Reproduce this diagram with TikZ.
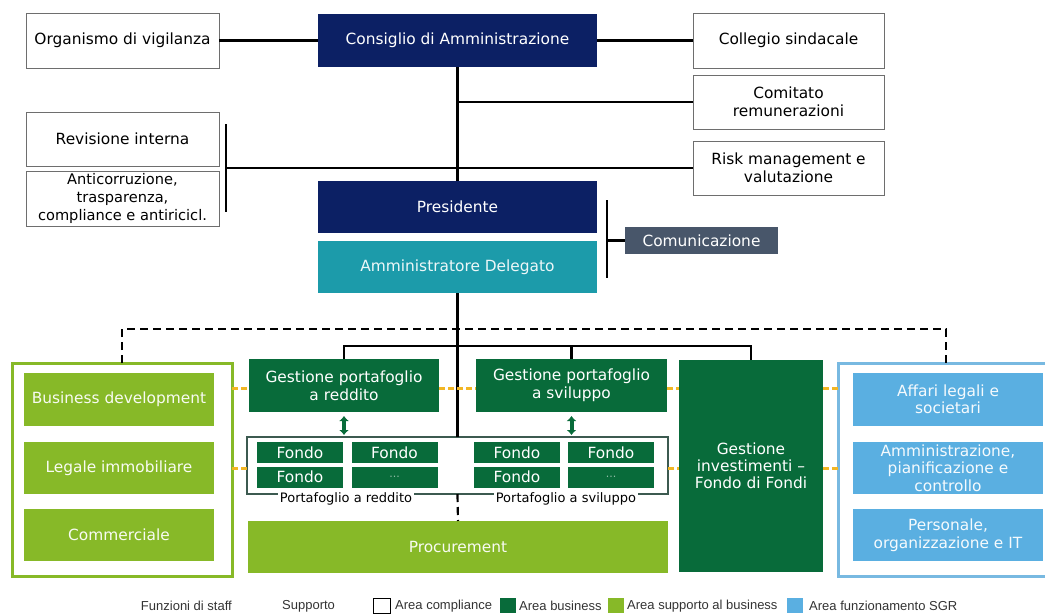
\documentclass[tikz,border=0pt]{standalone}
\usepackage{fontspec}
\setmainfont{DejaVu Sans}
\newfontfamily\legendfont{Liberation Sans}
\usetikzlibrary{arrows.meta}
\definecolor{navy}{RGB}{12,32,100}
\definecolor{teal}{RGB}{28,155,170}
\definecolor{slate}{RGB}{72,86,106}
\definecolor{dgreen}{RGB}{8,107,58}
\definecolor{lgreen}{RGB}{135,185,40}
\definecolor{lblue}{RGB}{90,175,225}
\definecolor{fblue}{RGB}{120,185,225}
\definecolor{ydash}{RGB}{242,182,36}
\definecolor{boxgray}{RGB}{110,110,110}
\definecolor{pfgray}{RGB}{60,90,80}
\begin{document}
\begin{tikzpicture}[x=1pt,y=-1pt,
  box/.style={rectangle, inner sep=0pt, outer sep=0pt, align=center, font=\fontsize{15.4}{18}\selectfont},
  wbox/.style={box, draw=boxgray, line width=1pt, fill=white, text=black},
  navybox/.style={box, fill=navy, text=white},
  tealbox/.style={box, fill=teal, text=white!92!teal},
  slatebox/.style={box, fill=slate, text=white},
  dgbox/.style={box, fill=dgreen, text=white},
  lgbox/.style={box, fill=lgreen, text=white!94!lgreen},
  lbbox/.style={box, fill=lblue, text=white!94!lblue, font=\fontsize{15.4}{17.5}\selectfont},
  fund/.style={box, fill=dgreen, text=white, minimum width=86pt, minimum height=21pt},
  frame/.style={rectangle, inner sep=0pt, outer sep=0pt, line width=3pt},
  conn/.style={line width=2.2pt, draw=black},
  ddash/.style={line width=2.2pt, draw=black, dash pattern=on 8pt off 5pt},
  ylink/.style={line width=3pt, draw=ydash, dash pattern=on 6pt off 3pt},
  dblarrow/.style={line width=4pt, draw=dgreen, {Latex[length=5pt,width=10pt]}-{Latex[length=5pt,width=10pt]}},
  pflabel/.style={fill=white, inner sep=1.5pt, font=\fontsize{13}{15}\selectfont, text=black},
  legtext/.style={inner sep=0pt, font=\legendfont\fontsize{13}{15}\selectfont, text=black!80},
  legsw/.style={rectangle, inner sep=0pt, minimum width=16pt, minimum height=15pt}
]
\useasboundingbox (0,0) rectangle (1045,614);

% top governance
\node[wbox, minimum width=193pt, minimum height=55pt] (org) at (122.5,40.5) {Organismo di vigilanza};
\node[navybox, minimum width=279pt, minimum height=53pt] (cda) at (457.5,40.5) {Consiglio di Amministrazione};
\node[wbox, minimum width=191pt, minimum height=55pt] (coll) at (788.5,40.5) {Collegio sindacale};
\node[wbox, minimum width=191pt, minimum height=54pt] (com) at (788.5,102) {Comitato\\remunerazioni};
\node[wbox, minimum width=191pt, minimum height=54pt] (risk) at (788.5,168) {Risk management e\\valutazione};
\node[wbox, minimum width=193pt, minimum height=54pt] (rev) at (122.5,139) {Revisione interna};
\node[wbox, minimum width=193pt, minimum height=55pt, font=\fontsize{14.6}{18}\selectfont] (anti) at (122.5,198.5) {Anticorruzione,\\trasparenza,\\compliance e antiricicl.};
\node[navybox, minimum width=279pt, minimum height=52pt] (pres) at (457.5,207) {Presidente};
\node[tealbox, minimum width=279pt, minimum height=52pt] (ad) at (457.5,267) {Amministratore Delegato};
\node[slatebox, minimum width=153pt, minimum height=27pt] (comu) at (701.5,240.5) {Comunicazione};

% frames
\node[frame, draw=lgreen, minimum width=220pt, minimum height=213pt] (lf) at (122,469.5) {};
\node[frame, draw=fblue, minimum width=216pt, minimum height=213pt] (rf) at (946,469.5) {};

% left column
\node[lgbox, minimum width=190pt, minimum height=53pt] (bd) at (119,399.5) {Business development};
\node[lgbox, minimum width=190pt, minimum height=52pt] (leg) at (119,468) {Legale immobiliare};
\node[lgbox, minimum width=190pt, minimum height=52pt] (comm) at (119,535) {Commerciale};

% right column
\node[lbbox, minimum width=190pt, minimum height=53pt] (aff) at (948,399.5) {Affari legali e\\societari};
\node[lbbox, minimum width=190pt, minimum height=52pt] (amm) at (948,468) {Amministrazione,\\pianificazione e\\controllo};
\node[lbbox, minimum width=190pt, minimum height=52pt] (pers) at (948,535) {Personale,\\organizzazione e IT};

% business area
\node[dgbox, minimum width=190pt, minimum height=53pt] (gpr) at (344,385.5) {Gestione portafoglio\\a reddito};
\node[dgbox, minimum width=191pt, minimum height=53pt] (gps) at (571.5,385.5) {Gestione portafoglio\\a sviluppo};
\node[dgbox, minimum width=144pt, minimum height=212pt, font=\fontsize{15.4}{17}\selectfont] (gi) at (751,466) {Gestione\\investimenti –\\Fondo di Fondi};
\node[lgbox, minimum width=420pt, minimum height=52pt] (proc) at (458,547) {Procurement};

% portfolio frame
\node[rectangle, draw=pfgray, line width=1.3pt, inner sep=0pt, outer sep=0pt, minimum width=421pt, minimum height=57pt] (pf) at (457.5,465.5) {};
\node[fund] (f1) at (300,452.5) {Fondo};
\node[fund] (f2) at (394.5,452.5) {Fondo};
\node[fund] (f3) at (300,477) {Fondo};
\node[fund, text=white!55!dgreen, font=\fontsize{11}{13}\selectfont] (f4) at (394.5,477) {...};
\node[fund] (f5) at (517,452.5) {Fondo};
\node[fund] (f6) at (611,452.5) {Fondo};
\node[fund] (f7) at (517,477) {Fondo};
\node[fund, text=white!55!dgreen, font=\fontsize{11}{13}\selectfont] (f8) at (611,477) {...};
\node[pflabel] (plr) at (346,499) {Portafoglio a reddito};
\node[pflabel] (pls) at (566,499) {Portafoglio a sviluppo};

% connectors
\draw[conn] (org.east) -- (cda.west);
\draw[conn] (cda.east) -- (coll.west);
\draw[conn] (cda.south) -- (pres.north);
\draw[conn] (cda.south |- com.west) -- (com.west);
\coordinate (bt) at (226,124);
\coordinate (bb) at (226,212);
\draw[conn] (bt) -- (bb);
\draw[conn] (bt |- risk.west) -- (risk.west);
\coordinate (ct) at (607,200);
\coordinate (cb) at (607,278);
\draw[conn] (ct) -- (cb);
\draw[conn] (ct |- comu.west) -- (comu.west);
\draw[conn] (ad.south) -- (pf.north);
\coordinate (hub) at (458,346);
\draw[conn] (gpr.north) |- (hub) -| (gi.north);
\draw[conn] (gps.north) -- (gps.north |- hub);
\coordinate (dtop) at (0,329);
\draw[ddash] (lf.north) -- (lf.north |- dtop) -- (rf.north |- dtop) -- (rf.north);
\draw[ddash] (pf.south) -- (proc.north);

% double arrows
\draw[dblarrow] ([yshift=-4pt]gpr.south) -- ([yshift=-23pt]gpr.south);
\draw[dblarrow] ([yshift=-4pt]gps.south) -- ([yshift=-23pt]gps.south);

% yellow support links
\coordinate (yr) at (0,388);
\coordinate (yr2) at (0,468);
\draw[ylink] (lf.east |- yr) -- (gpr.west |- yr);
\draw[ylink] (gpr.east |- yr) -- (gps.west |- yr);
\draw[ylink] (gps.east |- yr) -- (gi.west |- yr);
\draw[ylink] (gi.east |- yr) -- (rf.west |- yr);
\draw[ylink] (lf.east |- yr2) -- (pf.west |- yr2);
\draw[ylink] (pf.east |- yr2) -- (gi.west |- yr2);
\draw[ylink] (gi.east |- yr2) -- (rf.west |- yr2);

% legend
\node[legtext, anchor=east] (lfs) at (232,606) {Funzioni di staff};
\node[legtext, anchor=west] (lsu) at (282,606) {Supporto};
\node[legsw, fill=white, draw=black, line width=0.8pt, minimum width=17pt] (lc) at (381.5,605.5) {};
\node[legtext, anchor=west] (lct) at (395,606) {Area compliance};
\node[legsw, fill=dgreen] (lb) at (508,605.5) {};
\node[legtext, anchor=west] (lbt) at (519,606) {Area business};
\node[legsw, fill=lgreen] (ls) at (615.5,605.5) {};
\node[legtext, anchor=west] (lst) at (627,606) {Area supporto al business};
\node[legsw, fill=lblue] (lf2) at (795,605.5) {};
\node[legtext, anchor=west] (lft) at (809,606) {Area funzionamento SGR};
\end{tikzpicture}
\end{document}
